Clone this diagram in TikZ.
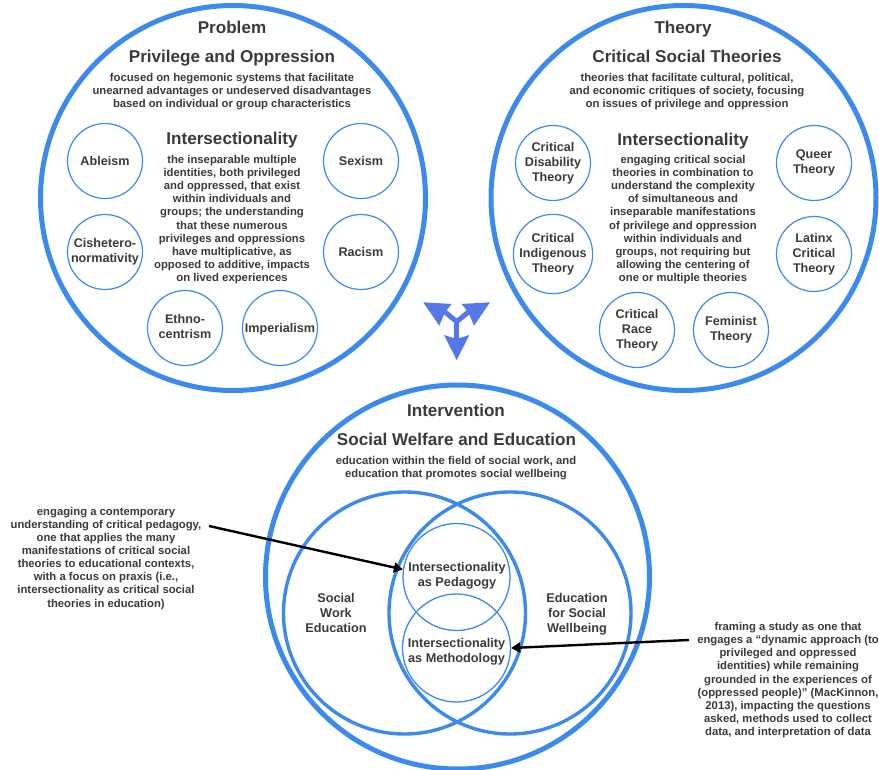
\documentclass[tikz,border=0pt]{standalone}
\usepackage{fontspec}
\setmainfont{Liberation Sans}
\usetikzlibrary{arrows.meta}
\definecolor{bl}{HTML}{3D8AEE}
\definecolor{tx}{HTML}{3A3A3A}
\definecolor{tri}{HTML}{5577E8}
\newcommand{\boxtop}[1]{\rule{0pt}{#1pt}}
\newcommand{\boxbot}[1]{\rule[-#1pt]{0pt}{#1pt}}
\tikzset{
 x=1pt,y=-1pt,
 big/.style={circle,draw=bl,line width=5pt,minimum size=#1,inner sep=0pt},
 venn/.style={circle,draw=bl,line width=3.4pt,minimum size=#1,inner sep=0pt},
 thin/.style={circle,draw=bl,line width=1.3pt,minimum size=#1,inner sep=0pt},
 evenA/.style={execute at begin node={\boxtop{12}},execute at end node={\boxbot{3}}},
 evenB/.style={execute at begin node={\boxtop{10}},execute at end node={\boxbot{2}}},
 small/.style={circle,draw=bl,line width=1.2pt,minimum size=#1,inner sep=0pt,align=center,text=tx,font=\fontsize{12.6}{15}\selectfont\bfseries,evenA},
 ttl/.style={text=tx,text height=16pt,text depth=4pt,inner sep=0pt,font=\fontsize{17.1}{20}\selectfont\bfseries},
 body/.style={text=tx,align=center,inner sep=0pt,yshift=-1.6pt,font=\fontsize{11.3}{13.1}\selectfont\bfseries,evenB},
 vt/.style={text=tx,align=center,inner sep=0pt,yshift=-1pt,font=\fontsize{12.7}{15}\selectfont\bfseries,evenA},
 arr/.style={line width=2.4pt,-{Triangle[length=9pt,width=10pt]}},
 stem/.style={draw=tri,line width=5pt},
}
\begin{document}
\begin{tikzpicture}
\useasboundingbox (0,0) rectangle (879,770);
\node[big=385pt] (p) at (233,198) {};
\node[big=385pt] (t) at (683.5,198) {};
\node[big=384pt] (i) at (457.5,577) {};
\node[ttl] (pt) at (232,28) {Problem};
\node[ttl] (ph) at (232,57) {Privilege and Oppression};
\node[body] (pb) at (232,90) {focused on hegemonic systems that facilitate\\unearned advantages or undeserved disadvantages\\based on individual or group characteristics};
\node[small=75pt] (a1) at (105,161) {Ableism};
\node[small=75pt] (a2) at (361,161) {Sexism};
\node[small=75pt] (a3) at (105,252) {Cishetero-\\normativity};
\node[small=75pt] (a4) at (361,252) {Racism};
\node[small=75pt] (a5) at (185,328) {Ethno-\\centrism};
\node[small=75pt] (a6) at (280,328) {Imperialism};
\node[ttl] (pi) at (232,139) {Intersectionality};
\node[body] (pd) at (232,218) {the inseparable multiple\\identities, both privileged\\and oppressed, that exist\\within individuals and\\groups; the understanding\\that these numerous\\privileges and oppressions\\have multiplicative, as\\opposed to additive, impacts\\on lived experiences};
\node[ttl] (tt) at (683,28) {Theory};
\node[ttl] (th) at (687,57) {Critical Social Theories};
\node[body] (tb) at (687,90) {theories that facilitate cultural, political,\\and economic critiques of society, focusing\\on issues of privilege and oppression};
\node[small=75pt] (b1) at (553,163) {Critical\\Disability\\Theory};
\node[small=75pt] (b2) at (814,163) {Queer\\Theory};
\node[small=75pt] (b3) at (553,254) {Critical\\Indigenous\\Theory};
\node[small=75pt] (b4) at (814,254) {Latinx\\Critical\\Theory};
\node[small=75pt] (b5) at (637,330) {Critical\\Race\\Theory};
\node[small=75pt] (b6) at (731,330) {Feminist\\Theory};
\node[ttl] (ti) at (683,140) {Intersectionality};
\node[body] (td) at (683,218) {engaging critical social\\theories in combination to\\understand the complexity\\of simultaneous and\\inseparable manifestations\\of privilege and oppression\\within individuals and\\groups, not requiring but\\allowing the centering of\\one or multiple theories};
\node[venn=242pt] (v1) at (404.5,613) {};
\node[venn=242pt] (v2) at (510,613) {};
\node[thin=107pt] (v3) at (456.5,577) {};
\node[thin=108pt] (v4) at (456.5,648) {};
\node[ttl] (it) at (456,410) {Intervention};
\node[ttl] (ih) at (456.5,439) {Social Welfare and Education};
\node[body] (ib) at (456,466.5) {education within the field of social work, and\\education that promotes social wellbeing};
\node[vt] (se) at (336,613) {Social\\Work\\Education};
\node[vt] (ew) at (577,613) {Education\\for Social\\Wellbeing};
\node[vt] (ip) at (457,574.5) {Intersectionality\\as Pedagogy};
\node[vt] (im) at (456.5,651) {Intersectionality\\as Methodology};
\node[body] (lt) at (106,556.7) {engaging a contemporary\\understanding of critical pedagogy,\\one that applies the many\\manifestations of critical social\\theories to educational contexts,\\with a focus on praxis (i.e.,\\intersectionality as critical social\\theories in education)};
\node[body] (rt) at (788,678.5) {framing a study as one that\\engages a “dynamic approach (to\\privileged and oppressed\\identities) while remaining\\grounded in the experiences of\\(oppressed people)” (MacKinnon,\\2013), impacting the questions\\asked, methods used to collect\\data, and interpretation of data};
\coordinate (la) at (209,526);
\coordinate (ra) at (689,640);
\draw[arr] (la) -- (v3.172);
\draw[arr] (ra) -- (v4.east);
% three-way arrow icon
\draw[stem] (456.7,321.7) -- (445,312);
\draw[stem] (456.7,321.7) -- (468.4,312);
\draw[stem] (456.7,321.7) -- (456.7,340);
\fill[tri] (423.3,302.3) -- (451.7,304) -- (445,312) -- (439.3,325.7) -- cycle;
\fill[tri] (490,302.3) -- (461.6,304) -- (468.3,312) -- (474,325.7) -- cycle;
\fill[tri] (456.7,360) -- (444,335) -- (456.7,339) -- (469.3,335) -- cycle;
\end{tikzpicture}
\end{document}
